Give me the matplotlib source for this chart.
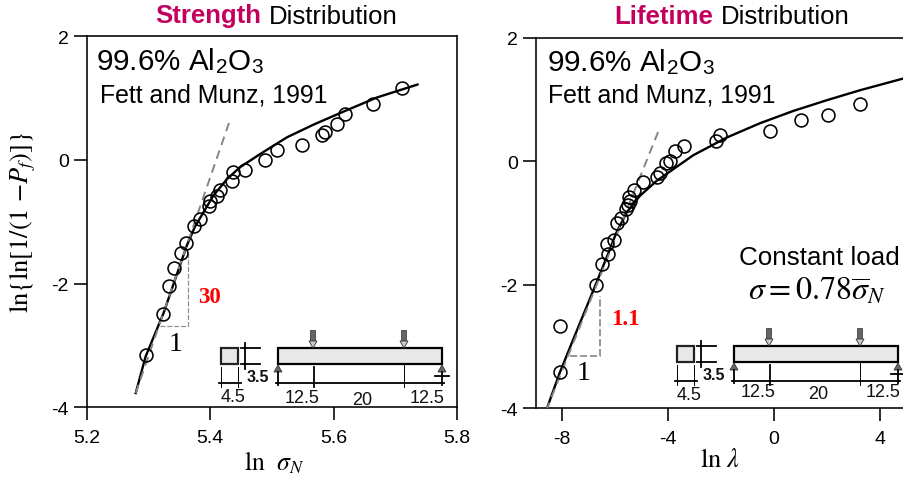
import matplotlib
matplotlib.use('Agg')
import matplotlib.pyplot as plt
from matplotlib.patches import Rectangle, Polygon

plt.rcParams['font.family'] = ['Liberation Sans', 'DejaVu Sans']
plt.rcParams['mathtext.fontset'] = 'stix'
plt.rcParams['axes.unicode_minus'] = False

# strength panel
strength_x = [5.711, 5.664, 5.619, 5.605, 5.586, 5.581, 5.549, 5.508, 5.489, 5.457, 5.437, 5.435, 5.415,
              5.41, 5.40, 5.398, 5.383, 5.374, 5.36, 5.353, 5.341, 5.333, 5.323, 5.295]
strength_y = [1.16, 0.91, 0.75, 0.585, 0.447, 0.41, 0.25, 0.166, 0.005, -0.167, -0.2, -0.34, -0.49,
              -0.575, -0.656, -0.747, -0.95, -1.07, -1.34, -1.5, -1.747, -2.037, -2.49, -3.157]
strength_fit_x = [5.279, 5.295, 5.324, 5.345, 5.362, 5.375, 5.389, 5.405, 5.427, 5.448, 5.481, 5.524, 5.567,
                  5.619, 5.670, 5.736]
strength_fit_y = [-3.77, -3.18, -2.48, -1.87, -1.38, -1.08, -0.844, -0.575, -0.31, -0.118, 0.097, 0.365, 0.57,
                  0.795, 1.01, 1.22]
strength_slope_x = [5.279, 5.431]
strength_slope_y = [-3.77, 0.62]
strength_tri_x = [5.318, 5.364, 5.364]
strength_tri_y = [-2.69, -2.69, -1.49]

# lifetime panel
lifetime_x = [3.245, 2.05, 1.02, -0.16, -2.03, -2.2, -3.38, -3.74, -3.92, -4.09, -4.3, -4.4, -4.93, -5.28,
              -5.47, -5.43, -5.5, -5.58, -5.78, -5.94, -6.04, -6.31, -6.26, -6.48, -6.73, -8.08, -8.08]
lifetime_y = [0.927, 0.744, 0.663, 0.497, 0.426, 0.324, 0.248, 0.162, 0.0, -0.03, -0.183, -0.254, -0.335, -0.458,
              -0.583, -0.64, -0.707, -0.766, -0.917, -1.0, -1.27, -1.34, -1.505, -1.667, -2.0, -2.675, -3.42]
lifetime_fit_x = [-8.6, -8.08, -7.57, -6.73, -6.26, -5.95, -5.56, -5.06, -4.43, -3.8, -3.045, -1.785, -0.528,
                  0.729, 1.989, 3.245, 5.06]
lifetime_fit_y = [-4.04, -3.42, -2.88, -2.0, -1.5, -1.16, -0.83, -0.561, -0.319, -0.129, 0.097, 0.383, 0.615,
                  0.814, 0.987, 1.149, 1.36]
lifetime_slope_x = [-8.6, -4.34]
lifetime_slope_y = [-4.04, 0.507]
lifetime_tri_x = [-7.7, -6.57, -6.57]
lifetime_tri_y = [-3.15, -3.15, -2.18]

y_ticks = [-4, -2, 0, 2]
strength_ticks = [5.2, 5.4, 5.6, 5.8]
lifetime_ticks = [-8, -4, 0, 4]

W, H = 904, 481
LW = 1.15


def px_axes(fig, x0, x1, y_top, y_bot):
    return fig.add_axes([x0 / W, 1 - y_bot / H, (x1 - x0) / W, (y_bot - y_top) / H])


def panel(ax, xs, ys, fit_x, fit_y, slope_x, slope_y, tri_x, tri_y, tri_lw, xticks, labels):
    ax.plot(fit_x, fit_y, color='black', lw=1.7, zorder=2, solid_joinstyle='round')
    ax.plot(slope_x, slope_y, color='#858585', lw=1.4, dashes=(4.5, 3), zorder=3)
    ax.plot(tri_x, tri_y, color='#909090', lw=tri_lw, dashes=(4, 1.5), zorder=3)
    ax.plot(xs, ys, 'o', mfc='none', mec='black', ms=9.3, mew=1.15, zorder=4)
    ax.set_ylim(-4, 2)
    ax.set_xticks(xticks)
    ax.set_xticklabels(labels)
    ax.set_yticks(y_ticks)
    ax.tick_params(length=9.5, width=LW, labelsize=14)
    ax.tick_params(axis='x', pad=6)
    for s in ax.spines.values():
        s.set_linewidth(LW)


def beam_sketch(ov, dx, dy, text_dy):
    # square cross section
    ov.add_patch(Rectangle((221 + dx, 349 + dy), 17, 16, fc='#e8e8e8', ec='#222222', lw=1.6))
    # beam
    ov.add_patch(Rectangle((278 + dx, 349 + dy), 164, 16, fc='#e8e8e8', ec='black', lw=1.6))
    thick = [([241, 260], [349, 349]), ([241, 260], [365, 365]), ([245, 245], [344, 370]),
             ([219, 241], [384, 384]), ([276, 444], [384, 384]), ([314, 314], [368, 388]),
             ([278, 278], [373, 386]), ([442, 442], [373, 386]), ([435, 449], [377, 377])]
    for px, py in thick:
        ov.plot([p + dx for p in px], [p + dy for p in py], color='black', lw=1.3)
    thin = [([221, 221], [368, 388]), ([238, 238], [368, 388]), ([404, 404], [366, 388])]
    for px, py in thin:
        ov.plot([p + dx for p in px], [p + dy for p in py], color='black', lw=0.7)
    # load arrows and supports
    for ax_px in [313, 404]:
        ov.add_patch(Rectangle((ax_px - 2.5 + dx, 331 + dy), 5, 12, fc='#666666', ec='#444444', lw=0.6))
        ov.add_patch(Polygon([(ax_px - 4 + dx, 342 + dy), (ax_px + 4 + dx, 342 + dy), (ax_px + dx, 349 + dy)],
                             fc='#cccccc', ec='#333333', lw=0.6))
    for ax_px in [278, 442]:
        ov.add_patch(Polygon([(ax_px - 4 + dx, 373 + dy), (ax_px + 4 + dx, 373 + dy), (ax_px + dx, 366 + dy)],
                             fc='#666666', ec='#333333', lw=0.6))
    opts = dict(ha='center', va='center', fontsize=13, color='#111111')
    ov.text(258 + dx, 378 + dy, '3.5', fontweight='bold', ha='center', va='center', fontsize=11.5, color='#111111')
    ov.text(233 + dx, 398 + dy, '4.5', **opts)
    ov.text(302 + dx, 399 + dy + text_dy, '12.5', **opts)
    ov.text(362 + dx, 401 + dy + text_dy, '20', **opts)
    ov.text(427 + dx, 399 + dy + text_dy, '12.5', **opts)


fig = plt.figure(figsize=(W / 100, H / 100), dpi=100)

ax1 = px_axes(fig, 87, 457, 37.3, 408.3)
panel(ax1, strength_x, strength_y, strength_fit_x, strength_fit_y, strength_slope_x, strength_slope_y,
      strength_tri_x, strength_tri_y, 0.9, strength_ticks, ['5.2', '5.4', '5.6', '5.8'])
ax1.set_xlim(5.2, 5.8)

ax2 = px_axes(fig, 536, 908, 38.7, 409.3)
panel(ax2, lifetime_x, lifetime_y, lifetime_fit_x, lifetime_fit_y, lifetime_slope_x, lifetime_slope_y,
      lifetime_tri_x, lifetime_tri_y, 1.3, lifetime_ticks, ['-8', '-4', '0', '4'])
ax2.set_xlim(-8.98, 5.06)

# overlay in pixel coordinates for the labels and beam sketches
ov = fig.add_axes([0, 0, 1, 1], facecolor='none')
ov.set_xlim(0, W)
ov.set_ylim(H, 0)
ov.axis('off')

ov.text(155, 16.5, 'Strength', color='#c4005f', fontweight='bold', fontsize=18.5, va='center')
ov.text(269, 16.5, 'Distribution', color='black', fontsize=18.5, va='center')
ov.text(614, 16.5, 'Lifetime', color='#c4005f', fontweight='bold', fontsize=18.5, va='center')
ov.text(721, 16.5, 'Distribution', color='black', fontsize=18.5, va='center')

ov.text(96, 61, r'99.6% Al$_{\mathregular{2}}$O$_{\mathregular{3}}$', fontsize=21.3, va='center')
ov.text(100, 96, 'Fett and Munz, 1991', fontsize=17.9, va='center')
ov.text(547, 62, r'99.6% Al$_{\mathregular{2}}$O$_{\mathregular{3}}$', fontsize=21.3, va='center')
ov.text(548, 95, 'Fett and Munz, 1991', fontsize=17.9, va='center')
ov.text(739, 258, 'Constant load', fontsize=18.7, va='center')
ov.text(748, 292, r'$\sigma = 0.78\overline{\sigma}_N$', fontsize=23, va='center')

ov.text(198, 298, '30', color='red', fontweight='bold', family='Liberation Serif', fontsize=16.5, va='center')
ov.text(611, 320, '1.1', color='red', fontweight='bold', family='Liberation Serif', fontsize=16.5, va='center')
ov.text(176, 345, '1', family='Liberation Serif', fontsize=20, ha='center', va='center')
ov.text(584, 374, '1', family='Liberation Serif', fontsize=20, ha='center', va='center')

ov.text(274, 463, r'$\mathrm{ln}\ \ \sigma_N$', fontsize=18.5, ha='center', va='center')
ov.text(720, 460, r'$\mathrm{ln}\ \lambda$', fontsize=19, ha='center', va='center')
ov.text(23, 222, r'$\mathrm{ln\{ln[1/(1\ {-}}P_f\mathrm{)]\}}$', fontsize=19, rotation=90, ha='center', va='center')

beam_sketch(ov, 0, 0, 0)
beam_sketch(ov, 456, -2, -4)

fig.savefig('out.png', dpi=100)
